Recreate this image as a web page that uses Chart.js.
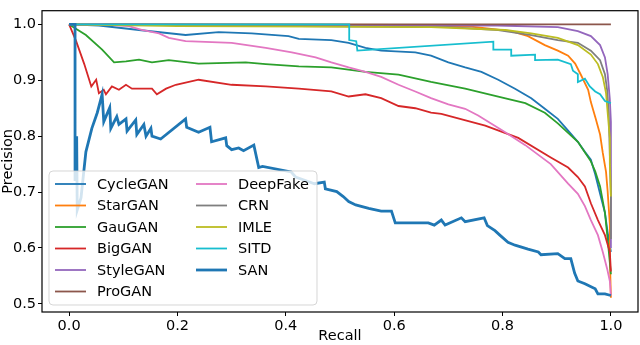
<!DOCTYPE html>
<html>
<head>
<meta charset="utf-8">
<script src="https://cdn.jsdelivr.net/npm/chart.js@4"></script>
<style>
  body { margin: 0; background: #fff; }
</style>
</head>
<body>
<canvas id="pr" width="640" height="345"></canvas>
<script>
// precision-recall points, [recall, precision]
const cycleGAN = [[0,1.0],[0.055,0.998],[0.129,0.99],[0.215,0.981],[0.276,0.986],[0.337,0.984],[0.405,0.979],[0.424,0.974],[0.484,0.972],[0.516,0.967],[0.547,0.958],[0.576,0.953],[0.639,0.95],[0.668,0.944],[0.7,0.932],[0.731,0.923],[0.761,0.915],[0.792,0.901],[0.823,0.885],[0.853,0.868],[0.878,0.849],[0.902,0.831],[0.921,0.81],[0.939,0.79],[0.952,0.772],[0.963,0.758],[0.971,0.732],[0.98,0.697],[0.989,0.663],[0.994,0.628],[1.0,0.593]];
const starGAN = [[0,1.0],[0.62,0.999],[0.742,0.996],[0.816,0.988],[0.847,0.979],[0.878,0.963],[0.902,0.953],[0.921,0.944],[0.934,0.93],[0.945,0.909],[0.958,0.883],[0.963,0.861],[0.972,0.831],[0.98,0.803],[0.985,0.77],[0.991,0.736],[0.994,0.701],[0.998,0.643],[0.998,0.586],[1.0,0.511]];
const gauGAN = [[0,1.0],[0.031,0.981],[0.061,0.955],[0.083,0.932],[0.105,0.934],[0.129,0.937],[0.153,0.932],[0.184,0.936],[0.239,0.93],[0.326,0.932],[0.363,0.929],[0.424,0.925],[0.484,0.923],[0.547,0.915],[0.608,0.91],[0.668,0.897],[0.731,0.885],[0.792,0.871],[0.842,0.859],[0.878,0.842],[0.902,0.823],[0.939,0.79],[0.963,0.755],[0.971,0.737],[0.98,0.71],[0.989,0.663],[0.994,0.616],[1.0,0.553]];
const bigGAN = [[0,1.0],[0.013,0.97],[0.028,0.929],[0.041,0.889],[0.05,0.901],[0.055,0.877],[0.064,0.883],[0.068,0.875],[0.079,0.889],[0.092,0.883],[0.105,0.892],[0.116,0.885],[0.134,0.885],[0.153,0.885],[0.162,0.875],[0.179,0.885],[0.197,0.892],[0.239,0.901],[0.3,0.892],[0.363,0.889],[0.424,0.885],[0.484,0.88],[0.516,0.871],[0.547,0.875],[0.576,0.868],[0.608,0.854],[0.639,0.85],[0.668,0.842],[0.687,0.84],[0.768,0.819],[0.829,0.797],[0.889,0.762],[0.921,0.744],[0.939,0.727],[0.952,0.71],[0.963,0.68],[0.976,0.65],[0.989,0.623],[0.998,0.593],[1.0,0.558]];
const styleGAN = [[0,1.0],[0.79,0.998],[0.902,0.995],[0.939,0.988],[0.963,0.979],[0.98,0.963],[0.989,0.941],[0.994,0.911],[0.998,0.866],[1.0,0.826],[1.0,0.6]];
const proGAN = [[0,1.0],[1.0,1.0]];
const deepFake = [[0,1.0],[0.055,1.0],[0.11,0.997],[0.134,0.99],[0.166,0.984],[0.184,0.976],[0.215,0.97],[0.3,0.967],[0.363,0.958],[0.411,0.95],[0.455,0.941],[0.484,0.932],[0.516,0.923],[0.547,0.915],[0.576,0.906],[0.608,0.892],[0.639,0.88],[0.668,0.868],[0.7,0.857],[0.731,0.849],[0.755,0.837],[0.805,0.807],[0.842,0.784],[0.889,0.75],[0.921,0.715],[0.939,0.697],[0.952,0.675],[0.963,0.65],[0.976,0.623],[0.985,0.593],[0.993,0.563],[0.998,0.541],[1.0,0.515]];
const crn = [[0,1.0],[0.3,0.998],[0.55,0.996],[0.7,0.995],[0.792,0.99],[0.853,0.981],[0.902,0.972],[0.939,0.967],[0.963,0.953],[0.98,0.936],[0.989,0.911],[0.993,0.883],[0.996,0.842],[0.998,0.767],[1.0,0.692],[1.0,0.616]];
const imle = [[0,1.0],[0.2,0.997],[0.46,0.996],[0.668,0.995],[0.805,0.99],[0.853,0.984],[0.902,0.976],[0.939,0.963],[0.963,0.946],[0.976,0.929],[0.985,0.906],[0.991,0.877],[0.994,0.842],[0.998,0.797],[0.998,0.75],[1.0,0.692]];
const sitd = [[0,1.0],[0.517,1.0],[0.517,0.972],[0.53,0.97],[0.532,0.953],[0.783,0.969],[0.783,0.955],[0.816,0.955],[0.816,0.944],[0.86,0.946],[0.86,0.936],[0.902,0.937],[0.926,0.929],[0.93,0.917],[0.939,0.911],[0.939,0.897],[0.952,0.903],[0.961,0.889],[0.971,0.88],[0.98,0.875],[0.989,0.863],[1.0,0.859]];
const san = [[0,1.0],[0.011,1.0],[0.011,0.72],[0.014,0.8],[0.015,0.668],[0.022,0.69],[0.031,0.772],[0.042,0.814],[0.052,0.842],[0.061,0.875],[0.064,0.826],[0.075,0.851],[0.077,0.814],[0.088,0.835],[0.092,0.821],[0.105,0.831],[0.107,0.809],[0.123,0.829],[0.125,0.803],[0.138,0.821],[0.142,0.8],[0.151,0.814],[0.153,0.8],[0.169,0.795],[0.215,0.831],[0.217,0.816],[0.239,0.807],[0.26,0.816],[0.263,0.79],[0.289,0.797],[0.291,0.783],[0.3,0.776],[0.313,0.779],[0.322,0.774],[0.341,0.784],[0.35,0.744],[0.357,0.746],[0.41,0.736],[0.418,0.727],[0.453,0.715],[0.471,0.718],[0.473,0.706],[0.494,0.701],[0.506,0.692],[0.516,0.683],[0.529,0.677],[0.553,0.671],[0.576,0.666],[0.595,0.666],[0.602,0.645],[0.663,0.645],[0.674,0.641],[0.687,0.65],[0.694,0.641],[0.724,0.654],[0.731,0.647],[0.766,0.654],[0.772,0.64],[0.786,0.631],[0.795,0.623],[0.81,0.61],[0.823,0.605],[0.847,0.598],[0.866,0.593],[0.871,0.588],[0.902,0.59],[0.915,0.581],[0.926,0.581],[0.933,0.555],[0.939,0.541],[0.952,0.536],[0.971,0.527],[0.976,0.518],[0.989,0.518],[1.0,0.515]];

const seriesNames = ['CycleGAN','StarGAN','GauGAN','BigGAN','StyleGAN','ProGAN','DeepFake','CRN','IMLE','SITD','SAN'];
const seriesData = [cycleGAN, starGAN, gauGAN, bigGAN, styleGAN, proGAN, deepFake, crn, imle, sitd, san];
const xTicks = [0, 0.2, 0.4, 0.6, 0.8, 1.0];
const yTicks = [0.5, 0.6, 0.7, 0.8, 0.9, 1.0];

const colors = ['#1f77b4','#ff7f0e','#2ca02c','#d62728','#9467bd','#8c564b','#e377c2','#7f7f7f','#bcbd22','#17becf','#1f77b4'];
const FONT = 'DejaVu Sans';

const datasets = seriesNames.map((name, i) => ({
  label: name,
  data: seriesData[i].map(p => ({ x: p[0], y: p[1] })),
  borderColor: colors[i],
  borderWidth: name === 'SAN' ? 2.8 : 1.8,
  pointRadius: 0,
  fill: false,
  tension: 0,
  order: seriesNames.length - i   // later series on top, like matplotlib
}));

// axes frame
const framePlugin = {
  id: 'frame',
  afterDatasetsDraw(chart) {
    const { ctx, chartArea: a } = chart;
    ctx.save();
    ctx.strokeStyle = '#000';
    ctx.lineWidth = 1.2;
    ctx.strokeRect(a.left, a.top, a.right - a.left, a.bottom - a.top);
    ctx.restore();
  }
};

// matplotlib-like legend in the lower left, two columns
const legendPlugin = {
  id: 'mplLegend',
  afterDraw(chart) {
    const ctx = chart.ctx;
    const x0 = 49, y0 = 171, w = 268, h = 134, r = 4;
    ctx.save();
    ctx.beginPath();
    ctx.roundRect(x0, y0, w, h, r);
    ctx.fillStyle = 'rgba(255,255,255,0.8)';
    ctx.fill();
    ctx.strokeStyle = 'rgba(204,204,204,0.8)';
    ctx.lineWidth = 1;
    ctx.stroke();
    ctx.font = '14.5px "' + FONT + '"';
    ctx.textBaseline = 'middle';
    ctx.fillStyle = '#000';
    chart.data.datasets.forEach((ds, i) => {
      const col = i < 6 ? 0 : 1;
      const row = i < 6 ? i : i - 6;
      const hx = col === 0 ? 55 : 196;
      const cy = 184 + row * 21.5;
      ctx.beginPath();
      ctx.moveTo(hx, cy);
      ctx.lineTo(hx + 31, cy);
      ctx.strokeStyle = ds.borderColor;
      ctx.lineWidth = ds.borderWidth;
      ctx.stroke();
      ctx.fillText(ds.label, hx + 42, cy + 1);
    });
    ctx.restore();
  }
};

new Chart(document.getElementById('pr'), {
  type: 'line',
  data: { datasets },
  options: {
    responsive: false,
    animation: false,
    devicePixelRatio: 1,
    layout: { padding: { top: 1, right: 2, left: 0, bottom: 0 } },
    plugins: { legend: { display: false }, tooltip: { enabled: false } },
    scales: {
      x: {
        type: 'linear',
        min: -0.05,
        max: 1.05,
        afterBuildTicks: s => { s.ticks = xTicks.map(v => ({ value: v })); },
        afterFit: s => { s.height = 33; },
        border: { display: false },
        grid: { drawOnChartArea: false, drawTicks: true, tickLength: 4, color: '#000', lineWidth: 1 },
        ticks: { color: '#000', padding: 2, maxRotation: 0, font: { family: FONT, size: 14.5 },
                 callback: v => v.toFixed(1) },
        title: { display: true, text: 'Recall', color: '#000', padding: 0, font: { family: FONT, size: 14.5 } }
      },
      y: {
        type: 'linear',
        min: 0.4855,
        max: 1.0245,
        afterBuildTicks: s => { s.ticks = yTicks.map(v => ({ value: v })); },
        afterFit: s => { s.width = 42; },
        border: { display: false },
        grid: { drawOnChartArea: false, drawTicks: true, tickLength: 4, color: '#000', lineWidth: 1 },
        ticks: { color: '#000', padding: 2, font: { family: FONT, size: 14.5 },
                 callback: v => v.toFixed(1) },
        title: { display: true, text: 'Precision', color: '#000', padding: 0, font: { family: FONT, size: 14.5 } }
      }
    }
  },
  plugins: [framePlugin, legendPlugin]
});
</script>
</body>
</html>
